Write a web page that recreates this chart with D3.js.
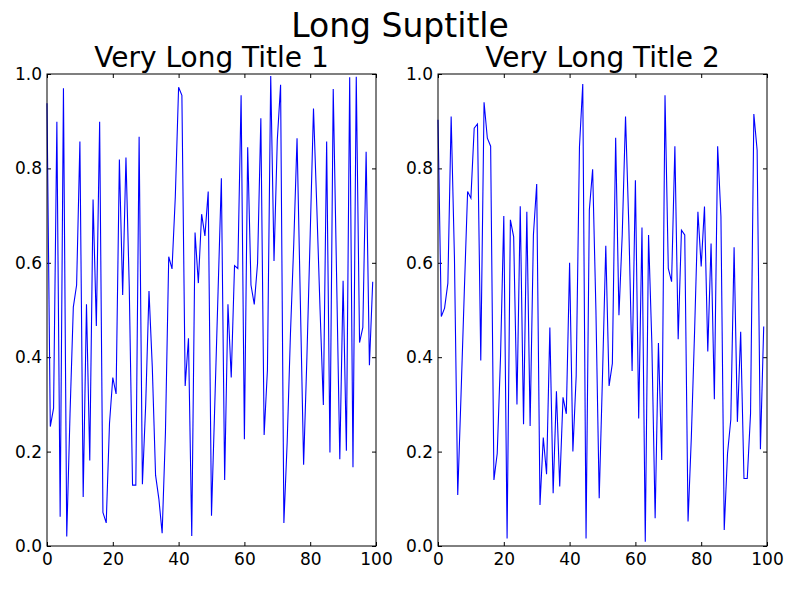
<!DOCTYPE html>
<html>
<head>
<meta charset="utf-8">
<script src="https://cdn.jsdelivr.net/npm/d3@7"></script>
<style>
  body { margin: 0; background: #fff; }
  svg { display: block; }
  text { font-family: "DejaVu Sans", sans-serif; }
</style>
</head>
<body>
<svg id="chart" width="800" height="600"></svg>
<script>
const suptitle = "Long Suptitle";
const titles = ["Very Long Title 1", "Very Long Title 2"];
const xTicks = [0, 20, 40, 60, 80, 100];
const yTicks = [0.0, 0.2, 0.4, 0.6, 0.8, 1.0];

const series1 = [
  0.938, 0.253, 0.292, 0.899, 0.062, 0.970, 0.020, 0.28, 0.506, 0.553,
  0.857, 0.104, 0.512, 0.181, 0.734, 0.466, 0.899, 0.071, 0.049, 0.26,
  0.357, 0.322, 0.819, 0.532, 0.823, 0.55, 0.129, 0.129, 0.867, 0.131,
  0.30, 0.540, 0.38, 0.150, 0.10, 0.027, 0.24, 0.613, 0.587, 0.74,
  0.972, 0.955, 0.339, 0.440, 0.021, 0.664, 0.557, 0.703, 0.657, 0.751,
  0.064, 0.30, 0.54, 0.779, 0.140, 0.512, 0.357, 0.594, 0.588, 0.955,
  0.226, 0.845, 0.553, 0.512, 0.599, 0.906, 0.235, 0.373, 0.996, 0.604,
  0.86, 0.977, 0.049, 0.22, 0.45, 0.64, 0.864, 0.52, 0.172, 0.40,
  0.66, 0.927, 0.72, 0.50, 0.299, 0.857, 0.198, 0.968, 0.58, 0.184,
  0.562, 0.202, 0.993, 0.167, 0.994, 0.431, 0.463, 0.835, 0.383, 0.560
];

const series2 = [
  0.903, 0.486, 0.504, 0.557, 0.910, 0.61, 0.108, 0.32, 0.54, 0.751,
  0.737, 0.885, 0.894, 0.393, 0.940, 0.864, 0.847, 0.140, 0.196, 0.40,
  0.699, 0.016, 0.691, 0.655, 0.300, 0.720, 0.258, 0.708, 0.254, 0.659,
  0.767, 0.087, 0.230, 0.152, 0.463, 0.112, 0.328, 0.126, 0.315, 0.28,
  0.600, 0.200, 0.36, 0.846, 0.979, 0.016, 0.712, 0.798, 0.50, 0.101,
  0.36, 0.636, 0.339, 0.387, 0.865, 0.489, 0.66, 0.910, 0.68, 0.371,
  0.775, 0.270, 0.675, 0.009, 0.659, 0.43, 0.059, 0.43, 0.182, 0.955,
  0.588, 0.560, 0.847, 0.438, 0.669, 0.659, 0.052, 0.23, 0.457, 0.708,
  0.592, 0.719, 0.412, 0.641, 0.311, 0.847, 0.698, 0.034, 0.196, 0.268,
  0.633, 0.263, 0.454, 0.143, 0.143, 0.281, 0.915, 0.839, 0.205, 0.465
];

const svg = d3.select("#chart");

svg.append("text")
  .attr("x", 400).attr("y", 37)
  .attr("text-anchor", "middle")
  .attr("font-size", 33)
  .attr("fill", "#000")
  .text(suptitle);

const panels = [
  { left: 47, right: 376, data: series1, title: titles[0] },
  { left: 438, right: 767, data: series2, title: titles[1] }
];
const plotTop = 74, plotBottom = 546;

panels.forEach(p => {
  const x = d3.scaleLinear().domain([0, 100]).range([p.left, p.right]);
  const y = d3.scaleLinear().domain([0, 1]).range([plotBottom, plotTop]);
  const g = svg.append("g");

  const tickLen = 4;
  const xb = g.append("g").attr("transform", `translate(0,${plotBottom})`)
    .call(d3.axisBottom(x).tickValues(xTicks).tickFormat(d3.format("d")).tickSizeInner(-tickLen).tickSizeOuter(0).tickPadding(7));
  const xt = g.append("g").attr("transform", `translate(0,${plotTop})`)
    .call(d3.axisTop(x).tickValues(xTicks).tickFormat("").tickSizeInner(-tickLen).tickSizeOuter(0));
  const yl = g.append("g").attr("transform", `translate(${p.left},0)`)
    .call(d3.axisLeft(y).tickValues(yTicks).tickFormat(d3.format(".1f")).tickSizeInner(-tickLen).tickSizeOuter(0).tickPadding(5));
  const yr = g.append("g").attr("transform", `translate(${p.right},0)`)
    .call(d3.axisRight(y).tickValues(yTicks).tickFormat("").tickSizeInner(-tickLen).tickSizeOuter(0));
  [xb, xt, yl, yr].forEach(a => {
    a.select(".domain").remove();
    a.selectAll(".tick line").attr("stroke", "#000").attr("stroke-width", 1);
    a.selectAll(".tick text").attr("font-size", 17).attr("fill", "#000")
      .attr("font-family", "DejaVu Sans, sans-serif");
  });

  const line = d3.line()
    .x((d, i) => x(i))
    .y(d => y(d));

  g.append("path")
    .datum(p.data)
    .attr("d", line)
    .attr("fill", "none")
    .attr("stroke", "#0000ff")
    .attr("stroke-width", 1.1)
    .attr("stroke-linejoin", "miter");

  g.append("rect")
    .attr("x", p.left).attr("y", plotTop)
    .attr("width", p.right - p.left).attr("height", plotBottom - plotTop)
    .attr("fill", "none").attr("stroke", "#000").attr("stroke-width", 1);

  g.append("text")
    .attr("x", (p.left + p.right) / 2).attr("y", 67)
    .attr("text-anchor", "middle")
    .attr("font-size", 28)
    .attr("fill", "#000")
    .text(p.title);
});
</script>
</body>
</html>
